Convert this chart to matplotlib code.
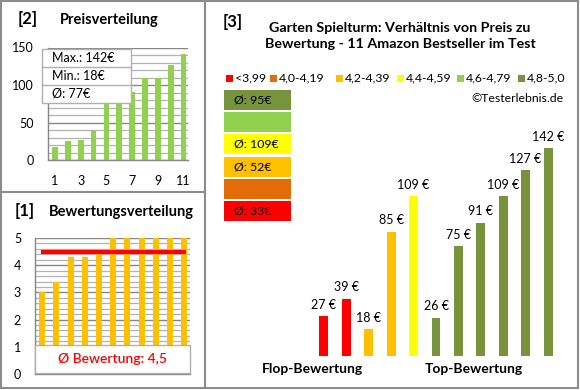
import numpy as np
import matplotlib
matplotlib.use("Agg")
import matplotlib.pyplot as plt
from matplotlib.patches import Rectangle

plt.rcParams['font.family'] = ['Lato', 'DejaVu Sans']

# ---- data ----
prices_sorted = [18, 26, 27, 39, 75, 85, 91, 109, 109, 127, 142]
ratings_sorted = [3.0, 3.4, 4.3, 4.3, 4.4, 5.0, 5.0, 5.0, 5.0, 5.0, 5.0]
bar_prices = [27, 39, 18, 85, 109, 26, 75, 91, 109, 127, 142]
bar_class = [0, 0, 2, 2, 3, 5, 5, 5, 5, 5, 5]
class_labels = ['<3,99', '4,0-4,19', '4,2-4,39', '4,4-4,59', '4,6-4,79', '4,8-5,0']
class_colors = ['#FF0000', '#E36C09', '#FFC000', '#FFFF00', '#92D050', '#77933C']

W, H = 580, 390
GRID_MAJ = '#878787'
GRID_MIN = '#B2B2B2'


def box(x0, y0, x1, y1):
    return [x0 / W, 1 - y1 / H, (x1 - x0) / W, (y1 - y0) / H]


def style_axes(ax):
    for s in ['top', 'right']:
        ax.spines[s].set_visible(False)
    for s in ['left', 'bottom']:
        ax.spines[s].set_color(GRID_MAJ)
        ax.spines[s].set_linewidth(1.0)
    ax.tick_params(length=0, labelsize=9)
    ax.set_axisbelow(True)
    ax.grid(axis='y', which='major', color=GRID_MAJ, lw=1.0)
    ax.grid(axis='y', which='minor', color=GRID_MIN, lw=0.9)
    ax.tick_params(which='minor', length=0)


fig = plt.figure(figsize=(W / 100, H / 100), dpi=100)

# ---- [2] Preisverteilung ----
ax2 = fig.add_axes(box(48, 47.5, 188, 160))
x = np.arange(1, len(prices_sorted) + 1)
ax2.bar(x, prices_sorted, width=0.45, color='#92D050', zorder=2)
ax2.set_xlim(0.45, 11.35)
ax2.set_ylim(0, 150)
ax2.set_yticks([0, 50, 100, 150])
ax2.set_yticks(np.arange(0, 151, 10), minor=True)
ax2.set_xticks([1, 3, 5, 7, 9, 11])
style_axes(ax2)
ax2.tick_params(axis='x', pad=11)
ax2.tick_params(axis='y', pad=10)

# ---- [1] Bewertungsverteilung ----
ax1 = fig.add_axes(box(35, 238, 190, 374))
ax1.bar(x, ratings_sorted, width=0.42, color='#FFC000', zorder=2)
avg_rating = np.mean(ratings_sorted)
ax1.hlines(avg_rating, 0.93, 11.1, color='#FF0000', lw=3, zorder=3)
ax1.set_xlim(0.5, 11.4)
ax1.set_ylim(0, 5)
ax1.set_yticks(range(6))
ax1.set_yticks(np.arange(0, 5.01, 0.2), minor=True)
ax1.set_xticks([])
style_axes(ax1)
ax1.tick_params(axis='y', pad=10)

# ---- [3] Preis vs Bewertung ----
ax3 = fig.add_axes(box(300, 136.6, 572, 355.7))
xi = np.arange(len(bar_prices))
ax3.bar(xi, bar_prices, width=0.4, color=[class_colors[c] for c in bar_class])
for xv, p in zip(xi, bar_prices):
    ax3.annotate(f'{p} €', (xv, p), xytext=(0, 4), textcoords='offset points',
                 ha='center', va='bottom', fontsize=9)
ax3.set_xlim(-1.07, 11.07)
ax3.set_ylim(0, 150)
ax3.axis('off')

# ---- overlay: frames, headings, boxes, legend ----
ov = fig.add_axes([0, 0, 1, 1], zorder=10)
ov.set_xlim(0, W); ov.set_ylim(H, 0); ov.axis('off')
ov.patch.set_visible(False)
fc = '#8C8C8C'
ov.add_patch(Rectangle((1, 1), 577, 387, fill=False, ec=fc, lw=1.5))
ov.plot([205, 205], [1, 388], color=fc, lw=1.5)
ov.plot([1, 205], [192, 192], color=fc, lw=1.5)

ov.text(28, 19, '[2]', fontsize=12, fontweight='bold', ha='center', va='center')
ov.text(109, 20, 'Preisverteilung', fontsize=10.5, fontweight='bold', ha='center', va='center')
ov.text(25, 211, '[1]', fontsize=12, fontweight='bold', ha='center', va='center')
ov.text(121, 212, 'Bewertungsverteilung', fontsize=10.5, fontweight='bold', ha='center', va='center')

# stats box panel 2
bx0, bx1 = 42, 131
rows = [f'Max.: {max(prices_sorted)}€', f'Min.: {min(prices_sorted)}€',
        f'Ø: {round(np.mean(prices_sorted))}€']
ov.add_patch(Rectangle((bx0, 49), bx1 - bx0, 54, fc='white', ec='#B0B0B0', lw=1))
for i, t in enumerate(rows):
    yc = 49 + 18 * i + 9
    if i > 0:
        ov.plot([bx0, bx1], [49 + 18 * i, 49 + 18 * i], color='#B0B0B0', lw=1)
    ov.text(bx0 + 10, yc, t, fontsize=9, ha='left', va='center')

# average rating box panel 1
ov.add_patch(Rectangle((35, 345), 155, 28, fc='white', ec='#B0B0B0', lw=1))
ov.text(113, 359, f'Ø Bewertung: {avg_rating:.1f}'.replace('.', ','), fontsize=10,
        color='#FF0000', fontweight='semibold', ha='center', va='center')

# panel 3 headings
ov.text(233, 22, '[3]', fontsize=12, fontweight='bold', ha='center', va='center')
ov.text(400, 36, 'Garten Spielturm: Verhältnis von Preis zu\nBewertung - 11 Amazon Bestseller im Test',
        fontsize=10.3, fontweight='bold', ha='center', va='center', linespacing=1.45)

# legend row
leg_x = [229, 273, 339, 400, 460, 521]
for lx, lab, col in zip(leg_x, class_labels, class_colors):
    ov.add_patch(Rectangle((lx - 3.5, 74.5), 7, 7, fc=col, ec='none'))
    ov.text(lx + 6, 78, lab, fontsize=8.8, ha='left', va='center')
ov.text(563, 98, '©Testerlebnis.de', fontsize=8.8, ha='right', va='center')

# class average boxes (top: best class)
for k, cls in enumerate(range(5, -1, -1)):
    y0 = 90 + k * 22.2
    ov.add_patch(Rectangle((224, y0), 67, 20, fc=class_colors[cls], ec='none'))
    vals = [p for p, c in zip(bar_prices, bar_class) if c == cls]
    if vals:
        ov.text(234, y0 + 10, f'Ø: {round(np.mean(vals))}€', fontsize=8.8,
                ha='left', va='center')

ov.text(312, 369, 'Flop-Bewertung', fontsize=10, fontweight='bold', ha='center', va='center')
ov.text(474, 369, 'Top-Bewertung', fontsize=10, fontweight='bold', ha='center', va='center')

fig.savefig('out.png', dpi=100, facecolor='white')
